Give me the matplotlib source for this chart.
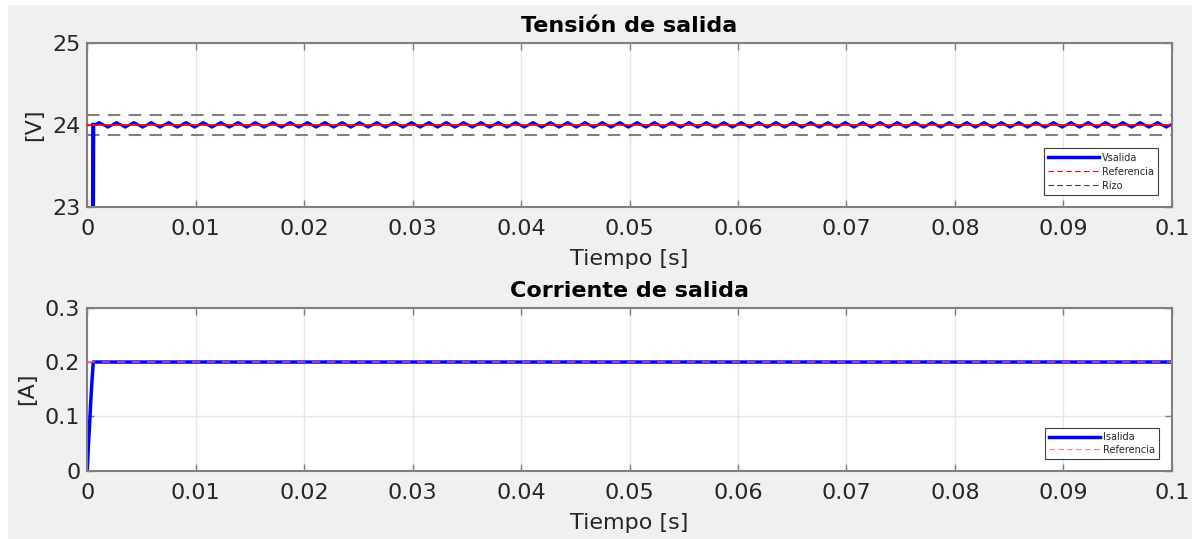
import numpy as np
import matplotlib
matplotlib.use("Agg")
import matplotlib.pyplot as plt
from matplotlib.lines import Line2D
from matplotlib.patches import Rectangle

# ── Data ──────────────────────────────────────────────────────────────────
T_END        = 0.1
T_RISE       = 0.00055          # end of start-up ramp [s]
V_REF        = 24.0
I_REF        = 0.2
RIZO         = [24.12, 23.88]   # ripple band

# start-up ramp
v_start_t    = [0.0, T_RISE]
v_start_val  = [0.0, 24.0]
i_start_t    = [0.0, 0.0001, 0.0002, 0.0003, 0.0004, T_RISE]
i_start_val  = [0.0, 0.045, 0.08, 0.12, 0.155, 0.2]

# one ripple period of the output voltage
RIPPLE_T0     = 0.0007
RIPPLE_PERIOD = 0.0016
ripple_dt     = [0.0, 0.0004, 0.0008, 0.0012]
ripple_val    = [24.0, 24.03, 24.0, 23.97]

x_ticks      = [0, 0.01, 0.02, 0.03, 0.04, 0.05, 0.06, 0.07, 0.08, 0.09, 0.1]
x_ticklabels = ["0", "0.01", "0.02", "0.03", "0.04", "0.05", "0.06", "0.07", "0.08", "0.09", "0.1"]
v_ticks      = [23, 24, 25]
i_ticks      = [0, 0.1, 0.2, 0.3]
i_ticklabels = ["0", "0.1", "0.2", "0.3"]

# ── Build the ripple trace from the measured period ───────────────────────
n_per = int((T_END - RIPPLE_T0) / RIPPLE_PERIOD) + 1
rip_t = (RIPPLE_T0 + np.arange(n_per)[:, None] * RIPPLE_PERIOD + np.array(ripple_dt)[None, :]).ravel()
rip_v = np.tile(ripple_val, n_per)
keep = rip_t <= T_END
v_t = np.concatenate([v_start_t, rip_t[keep]])
v_v = np.concatenate([v_start_val, rip_v[keep]])

i_t = np.array(i_start_t + [T_END])
i_v = np.array(i_start_val + [I_REF])

# ── Figure ────────────────────────────────────────────────────────────────
plt.rcParams["font.family"] = ["DejaVu Sans"]
W, H = 1201, 539
FS = 16
fig = plt.figure(figsize=(W / 100, H / 100), dpi=100, facecolor="white")
fig.patches.append(Rectangle((8 / W, 0), (1192 - 8) / W, (H - 5) / H,
                             transform=fig.transFigure, facecolor="#f0f0f0",
                             edgecolor="none", zorder=-10))

left, width = 87.3 / W, (1171.7 - 87.3) / W
ax1 = fig.add_axes([left, 1 - 206.7 / H, width, (206.7 - 43) / H])
ax2 = fig.add_axes([left, 1 - 470.7 / H, width, (470.7 - 307.7) / H])

TXT = "#262626"


def style(ax, yticks, ylabel, title):
    ax.set_xlim(0, T_END)
    ax.set_xticks(x_ticks)
    ax.set_xticklabels(x_ticklabels)
    ax.set_yticks(yticks)
    ax.set_ylim(yticks[0], yticks[-1])
    ax.grid(True, color="#e6e6e6", lw=1)
    ax.set_axisbelow(True)
    ax.tick_params(direction="in", length=5, width=1, colors="#7f7f7f",
                   labelcolor=TXT, labelsize=FS, top=True, right=True)
    ax.tick_params(axis="x", pad=9)
    ax.tick_params(axis="y", pad=5)
    for s in ax.spines.values():
        s.set_color("#7f7f7f")
        s.set_linewidth(1.5)
    ax.set_xlabel("Tiempo [s]", fontsize=FS, color=TXT, labelpad=7)
    ax.set_ylabel(ylabel, fontsize=FS, color=TXT, labelpad=6)
    ax.set_title(title, fontsize=FS, fontweight="bold", pad=8)


def legend(ax, handles, labels, anchor, spacing):
    leg = ax.legend(handles, labels, loc="lower right", bbox_to_anchor=anchor,
                    borderaxespad=0, fontsize=7, handlelength=5.2,
                    labelspacing=spacing, fancybox=False, framealpha=1,
                    edgecolor="#404040", borderpad=0.45, handletextpad=0.3)
    leg.get_frame().set_linewidth(0.8)
    for t in leg.get_texts():
        t.set_color(TXT)


# ── Tensión de salida ─────────────────────────────────────────────────────
ax1.plot([0, T_END], [V_REF, V_REF], color="red", lw=1.2, zorder=3)
for r in RIZO:
    ax1.plot([0, T_END], [r, r], color="#808080", lw=1.5, ls=(0, (6, 4)), zorder=2)
ax1.plot(v_t, v_v, color="blue", lw=2, zorder=2.5)
ax1.plot(v_start_t, v_start_val, color="blue", lw=3, zorder=2.5)
style(ax1, v_ticks, "[V]", "Tensión de salida")

h1 = [Line2D([], [], color="blue", lw=2.5),
      Line2D([], [], color="red", lw=0.8, ls=(0, (5, 3))),
      Line2D([], [], color="#404040", lw=0.8, ls=(0, (5, 3)))]
legend(ax1, h1, ["Vsalida", "Referencia", "Rizo"],
       (1 - 13.7 / 1084.4, 11.7 / 163.7), 0.4)

# ── Corriente de salida ───────────────────────────────────────────────────
ax2.plot(i_t, i_v, color="blue", lw=2.5, zorder=2)
ax2.plot([0, T_END], [I_REF, I_REF], color="#ff6060", lw=1.2, ls=(0, (5, 4)), alpha=0.8, zorder=3)
style(ax2, i_ticks, "[A]", "Corriente de salida")
ax2.set_yticklabels(i_ticklabels)

h2 = [Line2D([], [], color="blue", lw=2.5),
      Line2D([], [], color="#ff8080", lw=0.8, ls=(0, (5, 3)))]
legend(ax2, h2, ["Isalida", "Referencia"],
       (1 - 12.7 / 1084.4, 11.7 / 163), 0.25)

fig.savefig("out.png", dpi=100, facecolor="white")
